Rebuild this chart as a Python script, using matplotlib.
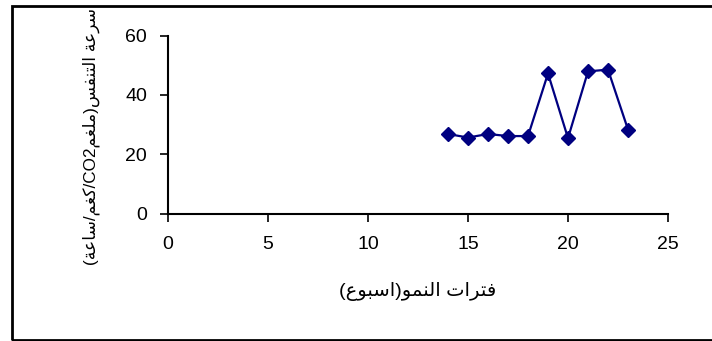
import matplotlib
matplotlib.use('Agg')
import matplotlib.pyplot as plt
from matplotlib.patches import Rectangle

# growth period (week) and respiration rate
weeks = [14, 15, 16, 17, 18, 19, 20, 21, 22, 23]
resp_rate = [26.8, 25.6, 26.8, 26.1, 26.1, 47.2, 25.4, 47.9, 48.5, 28.3]
x_ticks = [0, 5, 10, 15, 20, 25]
y_ticks = [0, 20, 40, 60]

# Arabic written with presentation forms in visual (left-to-right) order,
# since matplotlib does no shaping / bidi
# فترات النمو(اسبوع)
xlabel_vis = ('(' + '\uFEC9\uFEEE\uFE92\uFEB3\uFE8D' + ')'
              + '\uFEEE\uFEE4\uFEE8\uFEDF\uFE8D' + ' '
              + '\uFE95\uFE8D\uFEAE\uFE98\uFED3')
# سرعة التنفس(ملغمCO2/كغم/ساعة)
ylabel_vis = ('(' + '\uFE94\uFECB\uFE8E\uFEB3' + '/'
              + '\uFEE2\uFED0\uFEDB' + '/' + 'CO2'
              + '\uFEE2\uFED0\uFEE0\uFEE3' + ')'
              + '\uFEB2\uFED4\uFEE8\uFE98\uFEDF\uFE8D' + ' '
              + '\uFE94\uFECB\uFEAE\uFEB3')

fonts = ['Liberation Sans', 'DejaVu Sans']
plt.rcParams['font.family'] = fonts

fig = plt.figure(figsize=(7.12, 3.41), dpi=100)
ax = fig.add_axes([168/712, 1 - 213.5/341, 500/712, 178/341])

ax.plot(weeks, resp_rate, color='#000080', lw=1.6, marker='D', ms=7.5,
        clip_on=False)

ax.set_xlim(0, 25)
ax.set_ylim(0, 60)
ax.set_xticks(x_ticks)
ax.set_yticks(y_ticks)
ax.spines['top'].set_visible(False)
ax.spines['right'].set_visible(False)
for s in ['left', 'bottom']:
    ax.spines[s].set_linewidth(1.5)
ax.tick_params(direction='out', length=6, width=1.2, labelsize=14)
ax.tick_params(axis='x', pad=10)
ax.tick_params(axis='y', pad=9)

ax.set_xlabel(xlabel_vis, fontsize=14, family=fonts)
ax.set_ylabel(ylabel_vis, fontsize=12.3, family=fonts)
ax.xaxis.set_label_coords(0.5, -0.385)
ax.yaxis.set_label_coords(-0.136, 0.43)

# outer frame of the chart area
fig.patches.append(Rectangle((12/712, 1/341), 1.0, 334/341, transform=fig.transFigure,
                             fill=False, edgecolor='black', lw=2))

fig.savefig('out.png', dpi=100)
